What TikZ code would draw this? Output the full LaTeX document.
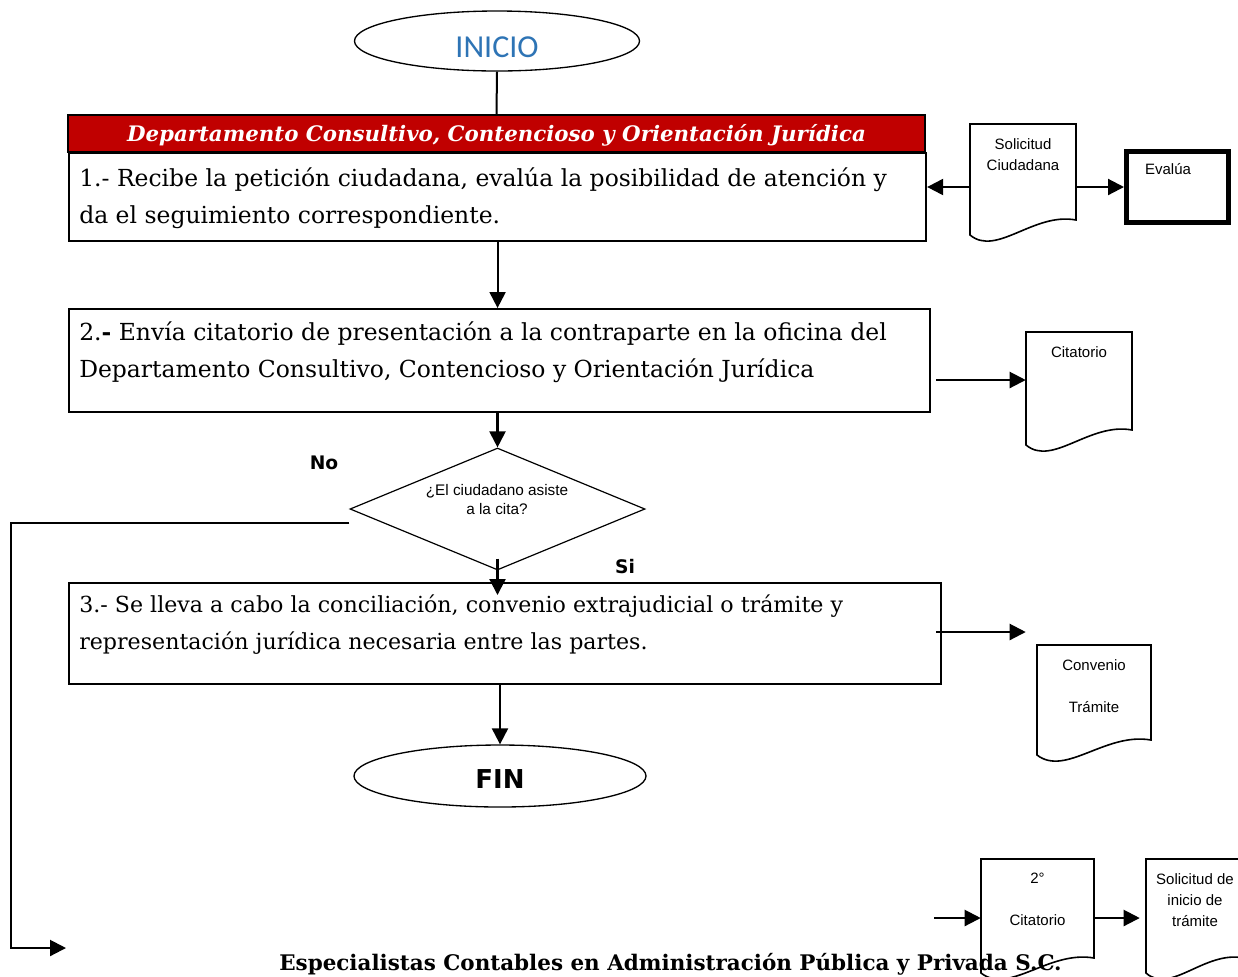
\documentclass[tikz,border=0pt]{standalone}
\usepackage{fontspec}
\setmainfont{DejaVu Serif}
\setsansfont{Liberation Sans}
\newfontfamily\calibrifont{Carlito}
\newfontfamily\tahomafont{DejaVu Sans}
\usetikzlibrary{arrows.meta, shapes.geometric, positioning, fit}

\definecolor{rojodepto}{RGB}{192,0,0}
\definecolor{azulinicio}{RGB}{46,116,181}

\tikzset{
	stepbox/.style={draw, line width=1.6pt, inner sep=0pt, anchor=north west},
	steptext/.style={anchor=north west, inner sep=0pt, align=left, font=\fontsize{17.6}{27.75}\selectfont},
	terminal/.style={ellipse, draw, line width=1pt, inner sep=0pt, text depth=0pt},
	decision/.style={diamond, draw, line width=0.9pt, inner sep=0pt},
	docline/.style={draw, line width=1.2pt},
	doctext/.style={anchor=north, inner sep=0pt, align=center, font=\sffamily\fontsize{11.25}{15.75}\selectfont},
	etiqueta/.style={font=\tahomafont\bfseries\fontsize{14}{16}\selectfont, inner sep=0pt},
	flecha/.style={-{Triangle[length=12pt, width=12pt]}, line width=1.6pt},
	linea/.style={line width=1.5pt}
}

% documento con borde ondulado: nombre, x, y, ancho, alto, texto
\newcommand{\documento}[6]{%
	\pgfmathsetmacro{\docder}{#2+#4}
	\pgfmathsetmacro{\docbajo}{#3+#5}
	\pgfmathsetmacro{\docmedio}{#2+0.5*#4}
	\draw[docline] (#2,#3) -- (\docder,#3) -- (\docder,{#3+#5-15})
		.. controls ({#2+0.6*#4},{#3+#5-23}) and ({#2+0.25*#4},{#3+#5+22}) .. (#2,\docbajo) -- cycle;
	\node[fit={(#2,#3) (\docder,\docbajo)}, inner sep=0pt] (#1) {};
	\node[doctext] (#1txt) at (\docmedio,{#3+14}) {#6};
}

\begin{document}
\begin{tikzpicture}[x=0.75pt, y=-0.75pt]
	\useasboundingbox (0,0) rectangle (1238,976);

	% flujo principal
	\node[terminal, minimum width=213.75pt, minimum height=45pt, text height=24.5pt] (inicio) at (497,41) {\calibrifont\fontsize{24}{24}\selectfont\color{azulinicio}INICIO};
	\node[draw, fill=rojodepto, line width=1.6pt, inner sep=0pt, minimum width=642.75pt, minimum height=27.75pt, text height=14pt, text depth=2pt] (depto) at (496.5,133.5)
		{\color{white}\bfseries\itshape\fontsize{16}{18}\selectfont Departamento Consultivo, Contencioso y Orientación Jurídica};
	\node[stepbox, minimum width=642.75pt, minimum height=66pt] (uno) at (68,152) {};
	\node[steptext] (unotxt) at (79,167) {1.- Recibe la petición ciudadana, evalúa la posibilidad de atención y\\da el seguimiento correspondiente.};
	\node[stepbox, minimum width=645.75pt, minimum height=77.25pt] (dos) at (68,308) {};
	\node[steptext] (dostxt) at (79,321) {2.\textbf{-} Envía citatorio de presentación a la contraparte en la oficina del\\Departamento Consultivo, Contencioso y Orientación Jurídica};
	\node[decision, minimum width=221.25pt, minimum height=91.5pt] (decision) at (497.5,509) {};
	\node[font=\sffamily\fontsize{11.5}{14.25}\selectfont, align=center, inner sep=0pt] (decisiontxt) at (497,499.5) {¿El ciudadano asiste\\a la cita?};
	\node[etiqueta] (no) at (324,463) {No};
	\node[etiqueta] (si) at (625,567) {Si};
	\node[stepbox, minimum width=654pt, minimum height=75.75pt] (tres) at (68,582) {};
	\node[steptext, font=\fontsize{16.6}{27.75}\selectfont] (trestxt) at (79,595) {3.- Se lleva a cabo la conciliación, convenio extrajudicial o trámite y\\representación jurídica necesaria entre las partes.};
	\node[terminal, minimum width=219pt, minimum height=46.5pt, text height=18.75pt] (fin) at (500,776) {\tahomafont\bfseries\fontsize{19.5}{20}\selectfont FIN};

	% documentos
	\documento{solicitud}{970}{124}{106}{111}{Solicitud\\Ciudadana}
	\node[draw, line width=3.75pt, inner sep=0pt, anchor=north west, minimum width=76.5pt, minimum height=53.25pt] (evalua) at (1124,149) {};
	\node[font=\sffamily\fontsize{11.25}{13}\selectfont, inner sep=0pt] (evaluatxt) at (1168,169) {Evalúa};
	\documento{citatorio}{1026}{332}{106}{113}{Citatorio}
	\documento{convenio}{1037}{645}{114}{110}{Convenio\\[15.75pt]Trámite}
	\documento{segunda}{981}{859}{113}{114}{2°\\[15.75pt]Citatorio}
	\documento{tramite}{1146}{859}{98}{114}{Solicitud de\\inicio de\\trámite}

	% conectores
	\draw[linea] (inicio.south) -- (depto.north);
	\draw[flecha] (uno.south) -- (uno.south |- dos.north);
	\draw[flecha] (decision.north |- dos.south) -- (decision.north);
	\draw[flecha] ([yshift=9pt]decision.south) -- ([yshift=-9.75pt]decision.south |- tres.north);
	\draw[flecha] (tres.south -| fin.north) -- (fin.north);
	\draw[flecha] (solicitud.west |- evalua.west) -- (uno.east |- evalua.west);
	\draw[flecha] (solicitud.east |- evalua.west) -- (evalua.west);
	\coordinate (salidados) at (936,380);
	\draw[flecha] (salidados) -- (citatorio.west |- salidados);
	\coordinate (salidatres) at (936,632);
	\draw[flecha] (salidatres) -- ([xshift=-8.25pt]convenio.west |- salidatres);
	\coordinate (entradacita) at (934,918);
	\draw[flecha] (entradacita) -- (segunda.west |- entradacita);
	\draw[flecha] (segunda.east |- entradacita) -- ([xshift=-4.5pt]tramite.west |- entradacita);
	\coordinate (regreso) at (66,948);
	\draw[flecha] ([yshift=-10.5pt]decision.west) -- (11,523) |- (regreso);

	% pie
	\node[font=\bfseries\fontsize{16.1}{18}\selectfont, anchor=base, inner sep=0pt] (pie) at (670.5,970) {Especialistas Contables en Administración Pública y Privada S.C.};
\end{tikzpicture}
\end{document}
